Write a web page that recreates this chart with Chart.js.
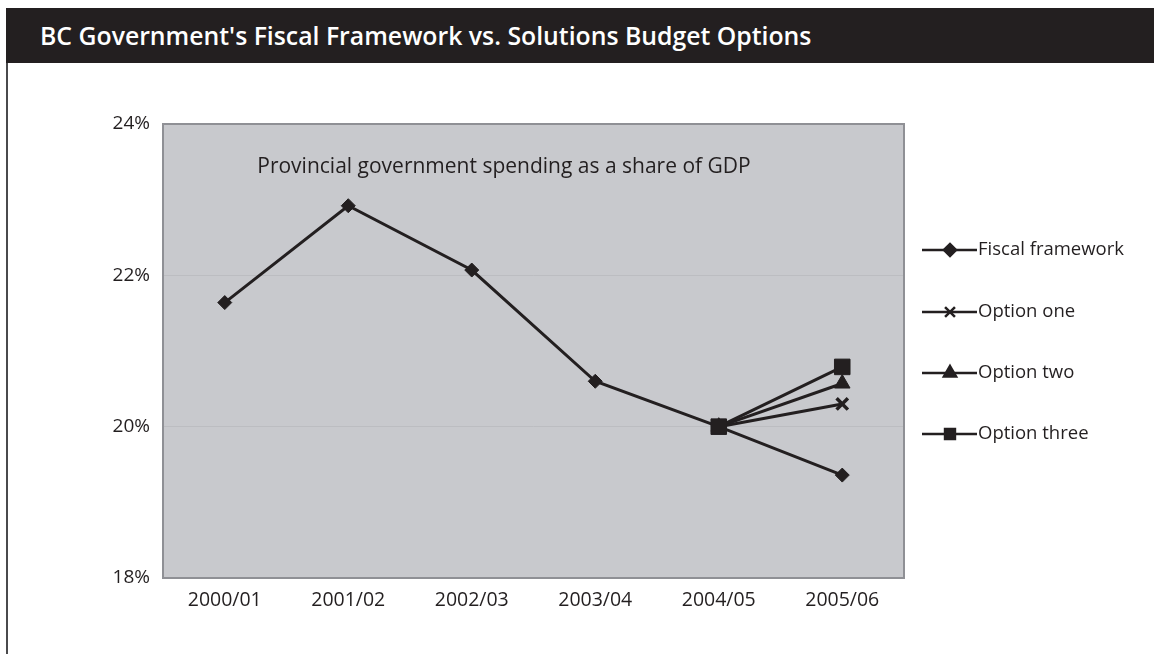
<!DOCTYPE html>
<html>
<head>
<meta charset="utf-8">
<script src="https://cdn.jsdelivr.net/npm/chart.js@4/dist/chart.umd.min.js"></script>
<style>
  html, body { margin: 0; padding: 0; background: #fff; }
  body { width: 1154px; height: 654px; position: relative; overflow: hidden; }
  #header {
    position: absolute; left: 6px; top: 8px; right: 0; height: 55px;
    background: #231f20; color: #fff;
    font: 600 24.8px "Open Sans", sans-serif;
    line-height: 55px; padding-left: 34px; box-sizing: border-box;
  }
  #frame {
    position: absolute; left: 6px; top: 63px; bottom: 0; width: 0;
    border-left: 2px solid #4a4a4c;
  }
  #wrap { position: absolute; left: 0; top: 0; width: 1154px; height: 654px; }
</style>
</head>
<body>
<div id="header">BC Government's Fiscal Framework vs. Solutions Budget Options</div>
<div id="frame"></div>
<div id="wrap"><canvas id="fiscalChart"></canvas></div>

<script>
// Data (share of GDP, %)
const years       = ["2000/01", "2001/02", "2002/03", "2003/04", "2004/05", "2005/06"];
const fiscal      = [21.64, 22.92, 22.07, 20.60, 20.00, 19.36];
const optionOne   = [null, null, null, null, 20.00, 20.30];
const optionTwo   = [null, null, null, null, 20.00, 20.57];
const optionThree = [null, null, null, null, 20.00, 20.79];
const yTicks      = [18, 20, 22, 24];

const INK = "#231f20";
const FONT = '"Open Sans", sans-serif';

/* ----------------------------------------------------------
   plot background, border, inner caption, legend
---------------------------------------------------------- */
const plotDeco = {
  id: "plotDeco",
  beforeDraw(chart) {
    const { ctx, chartArea: a } = chart;
    ctx.save();
    ctx.fillStyle = "#c8c9cd";
    ctx.fillRect(a.left, a.top, a.right - a.left, a.bottom - a.top);
    ctx.restore();
  },
  afterDraw(chart) {
    const { ctx, chartArea: a } = chart;
    ctx.save();
    ctx.strokeStyle = "#8f9095";
    ctx.lineWidth = 2;
    ctx.strokeRect(a.left, a.top, a.right - a.left, a.bottom - a.top);

    // caption inside plot
    ctx.fillStyle = INK;
    ctx.font = "21px " + FONT;
    ctx.textAlign = "center";
    ctx.textBaseline = "middle";
    ctx.fillText("Provincial government spending as a share of GDP", a.left + 341, a.top + 43);

    // legend
    const x0 = a.right + 18;
    const rows = [250, 312, 373, 434];
    ctx.font = "18.5px " + FONT;
    ctx.textAlign = "left";
    chart.data.datasets.forEach((ds, i) => {
      const y = rows[i];
      ctx.strokeStyle = INK;
      ctx.lineWidth = 2.5;
      ctx.beginPath();
      ctx.moveTo(x0, y);
      ctx.lineTo(x0 + 55, y);
      ctx.stroke();
      ctx.fillStyle = INK;
      ctx.strokeStyle = INK;
      Chart.helpers.drawPoint(ctx, {
        pointStyle: ds.pointStyle,
        rotation: 0,
        radius: ds.legendRadius,
        borderWidth: ds.pointStyle === "crossRot" ? 3.5 : 1
      }, x0 + 28, y);
      ctx.fillStyle = INK;
      ctx.fillText(ds.label, x0 + 56, y);
    });
    ctx.restore();
  }
};

function series(label, data, style, radius, legendRadius, order) {
  return {
    label, data,
    borderColor: INK,
    backgroundColor: INK,
    borderWidth: 3,
    pointStyle: style,
    pointRadius: radius,
    pointBorderWidth: style === "crossRot" ? 3.5 : 1,
    pointBackgroundColor: INK,
    pointBorderColor: INK,
    legendRadius,
    order,
    tension: 0,
    spanGaps: false
  };
}

new Chart(document.getElementById("fiscalChart"), {
  type: "line",
  data: {
    labels: years,
    datasets: [
      series("Fiscal framework", fiscal, "rectRot", 7, 6, 3),
      series("Option one", optionOne, "crossRot", 8, 7, 2),
      series("Option two", optionTwo, "triangle", 9, 7, 1),
      series("Option three", optionThree, "rect", 11, 7, 0)
    ]
  },
  options: {
    responsive: true,
    maintainAspectRatio: false,
    animation: false,
    layout: { padding: { left: 0, right: 250, top: 124, bottom: 0 } },
    plugins: {
      legend: { display: false },
      title: { display: false },
      tooltip: { enabled: false }
    },
    scales: {
      x: {
        offset: true,
        grid: { display: false, drawTicks: false },
        border: { display: false },
        ticks: { color: INK, font: { family: FONT, size: 19.5 }, padding: 11, maxRotation: 0 },
        afterFit: s => { s.height = 76; }
      },
      y: {
        min: 18, max: 24,
        afterBuildTicks: s => { s.ticks = yTicks.map(v => ({ value: v })); },
        grid: {
          drawTicks: false,
          color: ctx => (ctx.tick && (ctx.tick.value === 20 || ctx.tick.value === 22)) ? "#bcbdc1" : "rgba(0,0,0,0)",
          lineWidth: 1
        },
        border: { display: false },
        ticks: {
          color: INK, font: { family: FONT, size: 19 }, padding: 13,
          callback: v => v + "%"
        },
        afterFit: s => { s.width = 163; }
      }
    }
  },
  plugins: [plotDeco]
});
</script>
</body>
</html>
